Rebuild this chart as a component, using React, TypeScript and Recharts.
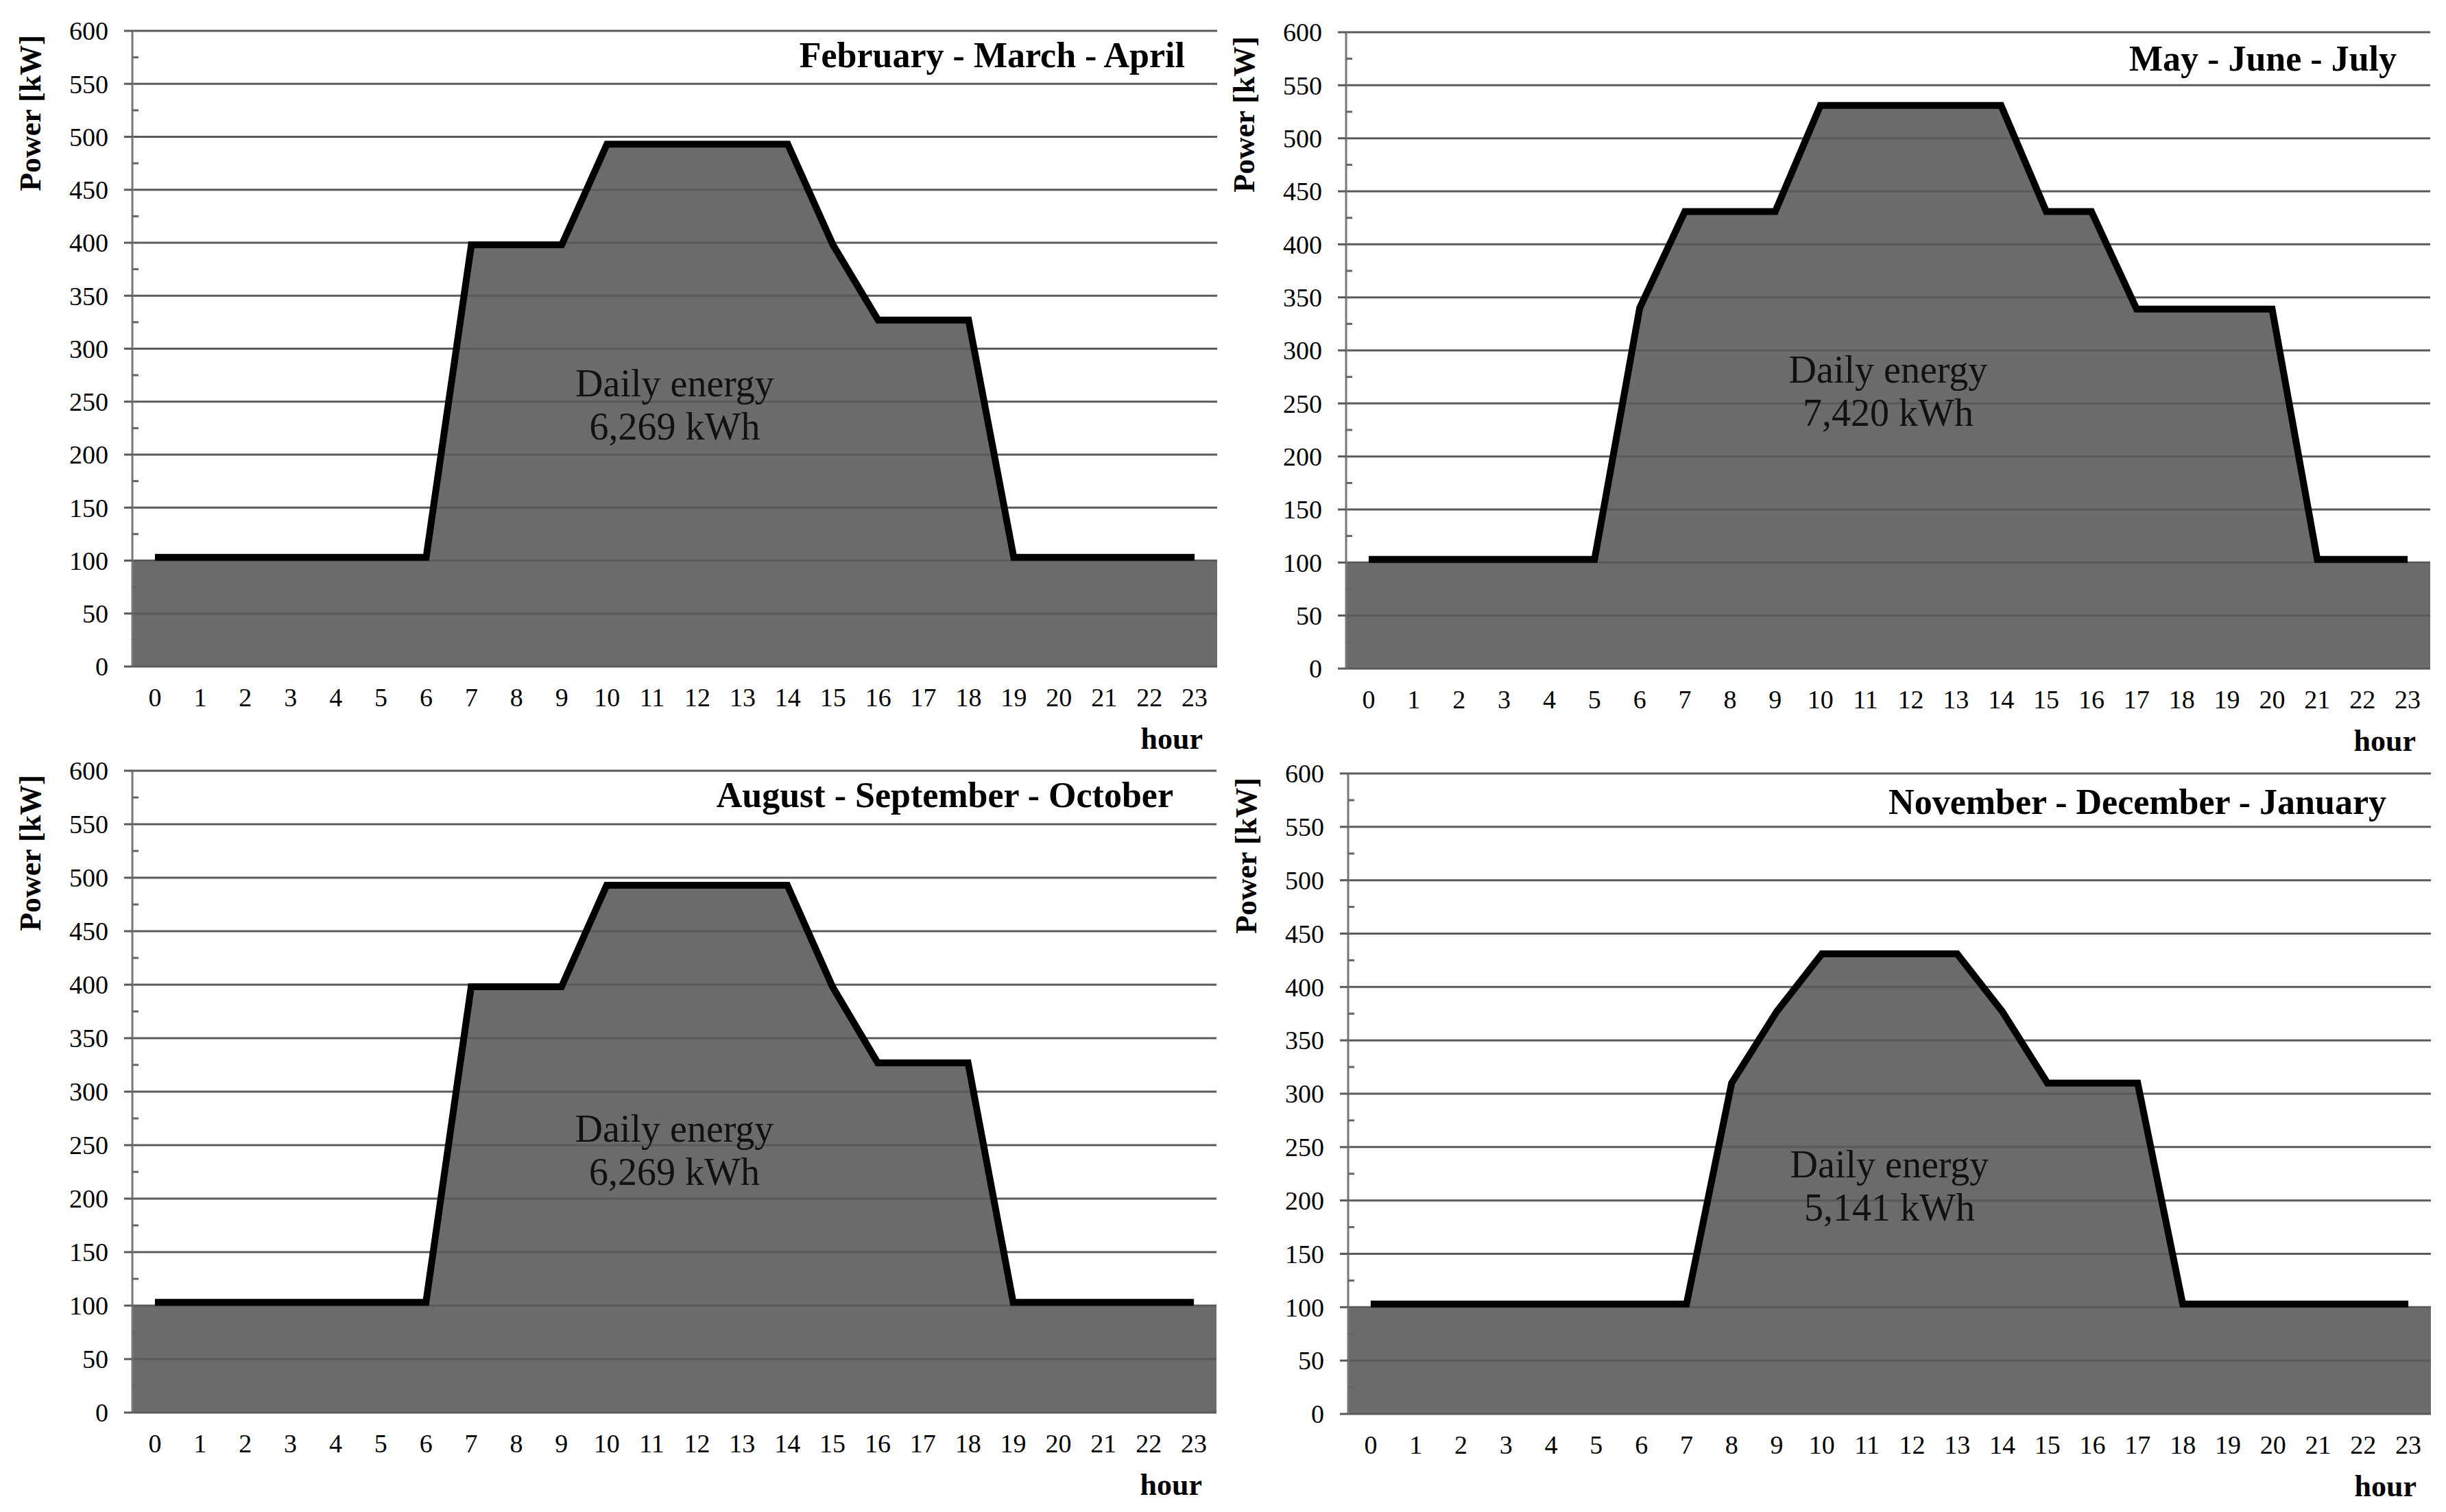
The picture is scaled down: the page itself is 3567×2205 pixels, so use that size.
import {
  ComposedChart, Area, Line, XAxis, YAxis, ReferenceArea, ReferenceLine
} from 'recharts'

const SERIF = "'Liberation Serif', 'Times New Roman', serif"
const FILL = '#6b6b6b'
const GRID = '#5a5a5a'

const HOURS = [0, 1, 2, 3, 4, 5, 6, 7, 8, 9, 10, 11, 12, 13, 14, 15, 16, 17, 18, 19, 20, 21, 22, 23]
const HOUR_EDGES = [...HOURS.map((h) => h - 0.5), 23.5]

const Y_MAJOR = [0, 50, 100, 150, 200, 250, 300, 350, 400, 450, 500, 550, 600]
const Y_MINOR = [25, 75, 125, 175, 225, 275, 325, 375, 425, 475, 525, 575]
const Y_TICKS = [...Y_MAJOR, ...Y_MINOR].sort((a, b) => a - b)

// power in kW, one value per hour
const FEB_APR = [103, 103, 103, 103, 103, 103, 103, 398, 398, 398, 493, 493, 493, 493, 493, 398, 327, 327, 327, 103, 103, 103, 103, 103]
const MAY_JUL = [103, 103, 103, 103, 103, 103, 340, 431, 431, 431, 531, 531, 531, 531, 531, 431, 431, 339, 339, 339, 339, 103, 103, 103]
const AUG_OCT = [103, 103, 103, 103, 103, 103, 103, 398, 398, 398, 493, 493, 493, 493, 493, 398, 327, 327, 327, 103, 103, 103, 103, 103]
const NOV_JAN = [103, 103, 103, 103, 103, 103, 103, 103, 310, 377, 431, 431, 431, 431, 377, 310, 310, 310, 103, 103, 103, 103, 103, 103]

const YTick = (props: any) => {
  const { x, y, payload } = props
  const ax = x + 35
  const v = payload.value
  if (v % 50 !== 0) {
    return <line x1={ax} x2={ax + 9} y1={y} y2={y} stroke="#666" strokeWidth={3} />
  }
  return (
    <g>
      <line x1={ax - 12} x2={ax} y1={y} y2={y} stroke={GRID} strokeWidth={3} />
      <text x={x} y={y} dy="0.35em" textAnchor="end" fontSize={38} fontFamily={SERIF} fill="#000">
        {v}
      </text>
    </g>
  )
}

type PanelProps = {
  title: string
  energy: string
  values: number[]
  L: number
  T: number
  PW: number
  PH: number
  titleRight: number
  titleY: number
  energyY: number
}

function Panel({ title, energy, values, L, T, PW, PH, titleRight, titleY, energyY }: PanelProps) {
  const data = HOURS.map((h, i) => ({ hour: h, p: values[i] }))
  const w = PW + 190 + 20
  const h = PH + 40 + 120
  const text = { position: 'absolute' as const, fontFamily: SERIF, color: '#000', whiteSpace: 'nowrap' as const }

  return (
    <div style={{ position: 'absolute', left: L - 190, top: T - 40, width: w, height: h }}>
      <ComposedChart width={w} height={h} data={data} margin={{ top: 40, right: 20, bottom: 0, left: 0 }}>
        <XAxis
          xAxisId="edges"
          type="number"
          dataKey="hour"
          domain={[-0.5, 23.5]}
          ticks={HOUR_EDGES}
          interval={0}
          tick={false}
          tickSize={12}
          tickLine={{ stroke: GRID, strokeWidth: 3 }}
          axisLine={false}
          height={0}
        />
        <XAxis
          type="number"
          dataKey="hour"
          domain={[-0.5, 23.5]}
          ticks={HOURS}
          interval={0}
          tickLine={false}
          axisLine={false}
          tickSize={0}
          tickMargin={31}
          height={120}
          tick={{ fill: '#000', fontSize: 38, fontFamily: SERIF }}
        />
        <YAxis
          type="number"
          domain={[0, 600]}
          ticks={Y_TICKS}
          interval={0}
          width={190}
          tickSize={12}
          tickMargin={23}
          tickLine={false}
          axisLine={{ stroke: '#777', strokeWidth: 3 }}
          tick={<YTick />}
        />
        <ReferenceArea x1={-0.5} x2={23.5} y1={0} y2={100} fill={FILL} fillOpacity={1} stroke="none" />
        <Area
          type="linear"
          dataKey="p"
          fill={FILL}
          fillOpacity={1}
          stroke="none"
          baseValue={0}
          isAnimationActive={false}
        />
        {Y_MAJOR.map((v) => (
          <ReferenceLine key={v} y={v} stroke={GRID} strokeWidth={3} />
        ))}
        <Line
          type="linear"
          dataKey="p"
          stroke="#000"
          strokeWidth={10}
          strokeLinejoin="miter"
          dot={false}
          isAnimationActive={false}
        />
      </ComposedChart>

      <div style={{ ...text, right: 20 + titleRight, top: 40 + titleY - 30, fontSize: 52, fontWeight: 'bold', lineHeight: '60px' }}>
        {title}
      </div>
      <div
        style={{
          ...text,
          left: 190 + PW / 2 - 300,
          width: 600,
          top: 40 + energyY - 32,
          fontSize: 56,
          lineHeight: '63px',
          textAlign: 'center',
          color: '#111'
        }}
      >
        Daily energy
        <br />
        {energy}
      </div>
      <div style={{ ...text, right: 20 + 21, top: 40 + PH + 106 - 26, fontSize: 44, fontWeight: 'bold', lineHeight: '52px' }}>
        hour
      </div>
      <div
        style={{
          ...text,
          left: 190 - 148 - 150,
          width: 300,
          top: 40 + 120 - 26,
          fontSize: 44,
          fontWeight: 'bold',
          lineHeight: '52px',
          textAlign: 'center',
          transform: 'rotate(-90deg)'
        }}
      >
        Power [kW]
      </div>
    </div>
  )
}

export default function App() {
  return (
    <div style={{ position: 'absolute', left: 0, top: 0, width: 3567, height: 2205, background: '#fff', overflow: 'hidden' }}>
      <Panel title="February - March - April" energy="6,269 kWh" values={FEB_APR}
        L={193} T={45} PW={1582} PH={927} titleRight={47} titleY={36} energyY={515} />
      <Panel title="May - June - July" energy="7,420 kWh" values={MAY_JUL}
        L={1963} T={47} PW={1581} PH={928} titleRight={49} titleY={39} energyY={493} />
      <Panel title="August - September - October" energy="6,269 kWh" values={AUG_OCT}
        L={193} T={1124} PW={1581} PH={936} titleRight={63} titleY={36} energyY={523} />
      <Panel title="November - December - January" energy="5,141 kWh" values={NOV_JAN}
        L={1966} T={1128} PW={1579} PH={934} titleRight={65} titleY={42} energyY={571} />
    </div>
  )
}
